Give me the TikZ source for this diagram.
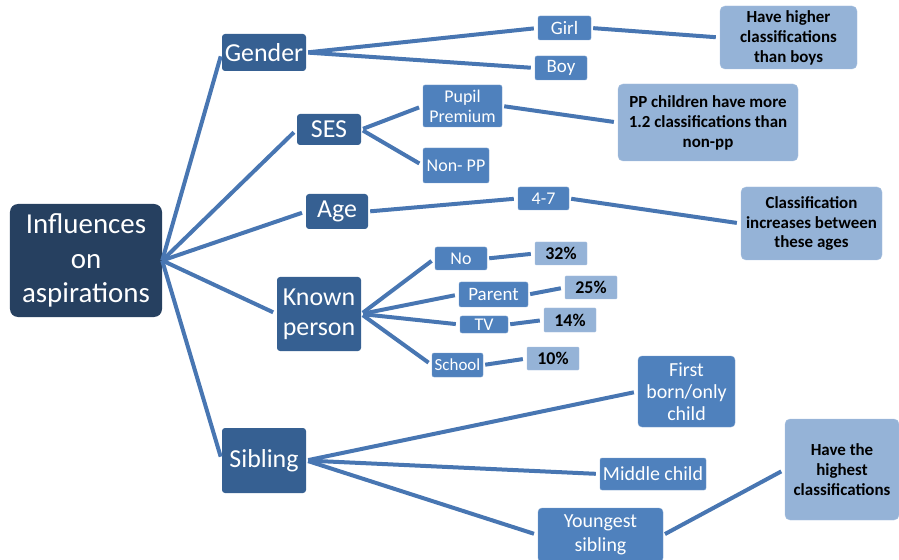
\documentclass[tikz,border=0pt]{standalone}
\usepackage{fontspec}
\setmainfont{Carlito}
\definecolor{rootblue}{RGB}{38,64,96}
\definecolor{topicblue}{RGB}{54,96,146}
\definecolor{optionblue}{RGB}{79,129,189}
\definecolor{findingblue}{RGB}{149,179,215}
\definecolor{linkblue}{RGB}{72,118,178}
\begin{document}
\begin{tikzpicture}[x=1bp, y=-1bp, every node/.style={inner sep=0pt, align=center, text=white}, root/.style={fill=rootblue, rounded corners=8bp, font=\fontsize{29}{35}\selectfont}, topic/.style={fill=topicblue, rounded corners=3bp, font=\fontsize{26}{30}\selectfont}, option/.style={fill=optionblue, draw=optionblue!75!white, rounded corners=2bp, font=\fontsize{19}{22}\selectfont}, finding/.style={fill=findingblue, draw=findingblue!80!white, rounded corners=5bp, text=black, font=\bfseries\fontsize{17}{20}\selectfont}, link/.style={draw=linkblue, line width=4bp, shorten <=2bp, shorten >=4bp}]
	\useasboundingbox (0,0) rectangle (899,560);
	\node[root, minimum width=152bp, minimum height=113bp] (infl) at (86,260.5) {Influences\\on\\aspirations};
	\node[topic, minimum width=84bp, minimum height=37bp] (gender) at (264,52.5) {Gender};
	\node[topic, minimum width=64bp, minimum height=31bp] (ses) at (329,129.5) {SES};
	\node[topic, minimum width=62bp, minimum height=35bp] (age) at (337,211.5) {Age};
	\node[topic, minimum width=84bp, minimum height=74bp] (known) at (319,314) {Known\\person};
	\node[topic, minimum width=84bp, minimum height=65bp] (sibling) at (264,460.5) {Sibling};
	\node[option, minimum width=53bp, minimum height=24bp] (girl) at (564.5,28) {Girl};
	\node[option, minimum width=52bp, minimum height=24bp] (boy) at (561,68) {Boy};
	\node[option, minimum width=79bp, minimum height=42bp, font=\fontsize{18}{20}\selectfont] (pupil) at (462.5,106) {Pupil\\Premium};
	\node[option, minimum width=66bp, minimum height=35bp, font=\fontsize{18}{20}\selectfont] (nonpp) at (456,165.5) {Non- PP};
	\node[option, minimum width=51bp, minimum height=23bp, font=\fontsize{18}{20}\selectfont] (range) at (543.5,198.5) {4-7};
	\node[option, minimum width=52bp, minimum height=23bp, font=\fontsize{18}{20}\selectfont] (no) at (461,258.5) {No};
	\node[option, minimum width=69bp, minimum height=25bp] (parent) at (493.5,294.5) {Parent};
	\node[option, minimum width=48bp, minimum height=17bp, font=\fontsize{18}{18}\selectfont] (tv) at (484,324.5) {TV};
	\node[option, minimum width=51bp, minimum height=24bp, font=\fontsize{17}{20}\selectfont] (school) at (457.5,365) {School};
	\node[option, minimum width=97bp, minimum height=71bp, rounded corners=4bp, font=\fontsize{20}{22}\selectfont] (first) at (686.5,391.5) {First\\born/only\\child};
	\node[option, minimum width=106bp, minimum height=32bp, font=\fontsize{20}{22}\selectfont] (middle) at (653,474) {Middle child};
	\node[option, minimum width=125bp, minimum height=54bp, rounded corners=4bp, font=\fontsize{20}{24}\selectfont] (youngest) at (600.5,535) {Youngest\\sibling};
	\node[finding, minimum width=137bp, minimum height=63bp] (higher) at (788.5,37.5) {Have higher\\classifications\\than boys};
	\node[finding, minimum width=180bp, minimum height=77bp] (ppmore) at (708,122.5) {PP children have more\\1.2 classifications than\\non-pp};
	\node[finding, minimum width=141bp, minimum height=73bp] (rise) at (811.5,223.5) {Classification\\increases between\\these ages};
	\node[finding, minimum width=52bp, minimum height=23bp, rounded corners=1bp, font=\bfseries\fontsize{18}{20}\selectfont] (p32) at (561,253.5) {32\%};
	\node[finding, minimum width=52bp, minimum height=23bp, rounded corners=1bp, font=\bfseries\fontsize{18}{20}\selectfont] (p25) at (591,287.5) {25\%};
	\node[finding, minimum width=52bp, minimum height=24bp, rounded corners=1bp, font=\bfseries\fontsize{18}{20}\selectfont] (p14) at (570,320) {14\%};
	\node[finding, minimum width=52bp, minimum height=23bp, rounded corners=1bp, font=\bfseries\fontsize{18}{20}\selectfont] (p10) at (553,358.5) {10\%};
	\node[finding, minimum width=114bp, minimum height=101bp] (highest) at (842,469.5) {Have the\\highest\\classifications};
	\draw[link, shorten <=0bp] (infl.east) -- (gender.west);
	\draw[link, shorten <=0bp] (infl.east) -- (ses.west);
	\draw[link, shorten <=0bp] (infl.east) -- (age.west);
	\draw[link, shorten <=0bp] (infl.east) -- (known.west);
	\draw[link, shorten <=0bp] (infl.east) -- (sibling.west);
	\draw[link] (gender.east) -- (girl.west);
	\draw[link] (gender.east) -- (boy.west);
	\draw[link] (girl.east) -- (higher.west);
	\draw[link] (ses.east) -- (pupil.west);
	\draw[link] (ses.east) -- (nonpp.west);
	\draw[link] (pupil.east) -- (ppmore.west);
	\draw[link] (age.east) -- (range.west);
	\draw[link] (range.east) -- (rise.west);
	\draw[link] (known.east) -- (no.west);
	\draw[link] (known.east) -- (parent.west);
	\draw[link] (known.east) -- (tv.west);
	\draw[link] (known.east) -- (school.west);
	\draw[link] (no.east) -- (p32.west);
	\draw[link] (parent.east) -- (p25.west);
	\draw[link] (tv.east) -- (p14.west);
	\draw[link] (school.east) -- (p10.west);
	\draw[link] (sibling.east) -- (first.west);
	\draw[link] (sibling.east) -- (middle.west);
	\draw[link] (sibling.east) -- (youngest.west);
	\draw[link] (youngest.east) -- (highest.west);
\end{tikzpicture}
\end{document}
